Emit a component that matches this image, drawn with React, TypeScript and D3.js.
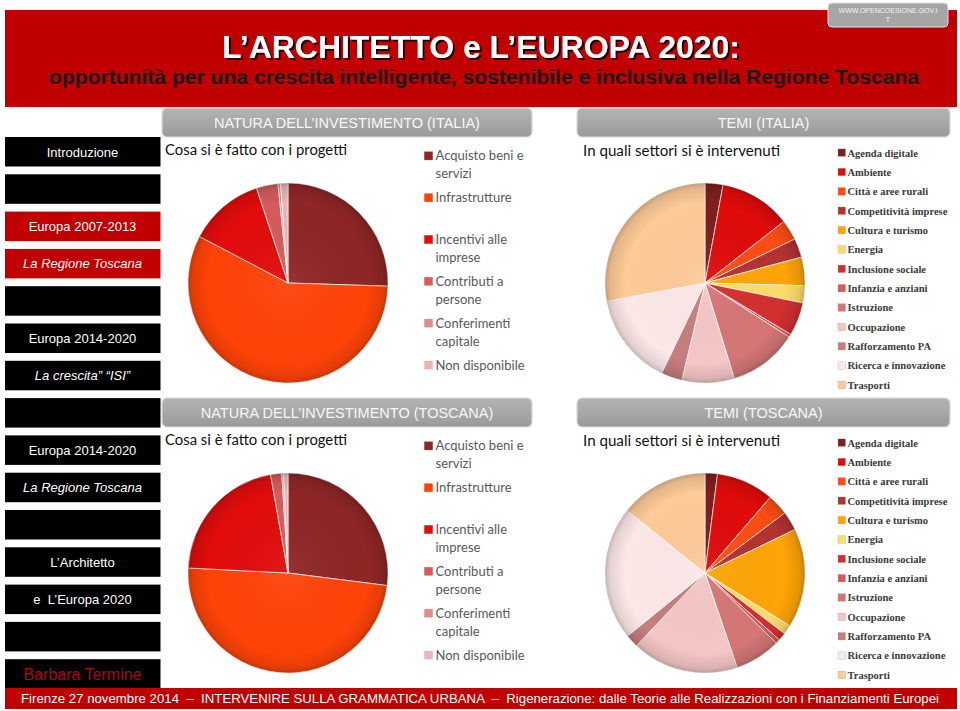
import React from 'react';
import * as d3 from 'd3';

// ---------- DATA ----------
const sidebarLabels = [
  'Introduzione', '', 'Europa 2007-2013', 'La Regione Toscana', '',
  'Europa 2014-2020', 'La crescita\u201d \u201cISI\u201d', '', 'Europa 2014-2020',
  'La Regione Toscana', '', 'L\u2019Architetto', 'e \u00a0L\u2019Europa 2020', '', 'Barbara Termine',
];
const sidebarItalic = [false, false, false, true, false, false, true, false, false, true, false, false, false, false, false];
const sidebarRed = [false, false, true, true, false, false, false, false, false, false, false, false, false, false, false];

const naturaCategories = [
  'Acquisto beni e servizi', 'Infrastrutture', 'Incentivi alle imprese',
  'Contributi a persone', 'Conferimenti capitale', 'Non disponibile',
];
const naturaLegendLines = [
  ['Acquisto beni e', 'servizi'], ['Infrastrutture'], ['Incentivi alle', 'imprese'],
  ['Contributi a', 'persone'], ['Conferimenti', 'capitale'], ['Non disponibile'],
];
const naturaColors = ['#8f2626', '#ff4308', '#e20c0c', '#d55c5c', '#df8c8c', '#e8b6b6'];
const naturaItalia = [25.5, 57.2, 12.2, 3.5, 0.4, 1.2];
const naturaToscana = [27.0, 48.8, 21.4, 1.8, 0.3, 0.7];

const temiCategories = [
  'Agenda digitale', 'Ambiente', 'Citt\u00e0 e aree rurali', 'Competitivit\u00e0 imprese',
  'Cultura e turismo', 'Energia', 'Inclusione sociale', 'Infanzia e anziani', 'Istruzione',
  'Occupazione', 'Rafforzamento PA', 'Ricerca e innovazione', 'Trasporti',
];
const temiColors = [
  '#7e1f1f', '#e00b0b', '#ff4d14', '#b43232', '#ffa505', '#ffdc6a', '#d23030',
  '#d85a5a', '#d47676', '#f5c6c6', '#c67e7e', '#fde8e8', '#fdca98',
];
const temiItalia = [2.9, 11.6, 3.3, 3.1, 4.6, 2.8, 5.4, 0.5, 11.2, 8.5, 3.4, 15.0, 28.0];
const temiToscana = [2.0, 9.3, 3.4, 3.1, 16.0, 1.5, 1.3, 0.7, 7.4, 17.2, 2.1, 21.6, 14.2];

const panelTitles = [
  ['NATURA DELL\u2019INVESTIMENTO (ITALIA)', 'TEMI (ITALIA)'],
  ['NATURA DELL\u2019INVESTIMENTO (TOSCANA)', 'TEMI (TOSCANA)'],
];

// ---------- COMPONENTS ----------
const RED = '#c00000';

function Pie({ cx, cy, r, values, colors, id }: any) {
  const pie = d3.pie<number>().sort(null).value((d) => d);
  const arc = d3.arc<d3.PieArcDatum<number>>().innerRadius(0).outerRadius(r);
  const arcs = pie(values);
  return (
    <g transform={`translate(${cx},${cy})`}>
      {arcs.map((a, i) => (
        <path key={i} d={arc(a) as string} fill={colors[i]} stroke="#fff" strokeOpacity={0.75} strokeWidth={0.9} />
      ))}
      <circle r={r} fill={`url(#shade-${id})`} pointerEvents="none" />
    </g>
  );
}

function GrayBar({ x, y, w, h, text }: any) {
  return (
    <g>
      <rect x={x} y={y} width={w} height={h} rx={5} fill="url(#barGrad)" stroke="#d9d9d9" strokeWidth={1.2} />
      <text x={x + w / 2} y={y + h / 2 + 5.5} textAnchor="middle" fontFamily="'Liberation Sans', Arial, sans-serif"
        fontSize={14.5} fill="#f7f7f7">{text}</text>
    </g>
  );
}

function NaturaPanel({ dy, values, title }: any) {
  return (
    <g transform={`translate(0,${dy})`}>
      <GrayBar x={162} y={108} w={370} h={29} text={title} />
      <text x={165} y={155} fontFamily="Lato, 'Open Sans', sans-serif" fontSize={14.5} fill="#111"
        textLength={182} lengthAdjust="spacingAndGlyphs">Cosa si è fatto con i progetti</text>
      <Pie cx={288} cy={283} r={100} values={values} colors={naturaColors} id={`n${dy}`} />
      {naturaCategories.map((c, i) => {
        const cyy = 155.7 + i * 41.9;
        return (
          <g key={c}>
            <rect x={424} y={cyy - 4.5} width={9} height={9} fill={naturaColors[i]} stroke="#fff" strokeWidth={0.5} />
            {naturaLegendLines[i].map((ln, j) => (
              <text key={j} x={435.5} y={cyy + 4.6 + j * 18} fontFamily="Lato, 'Open Sans', sans-serif"
                fontSize={13} fill="#595959">{ln}</text>
            ))}
          </g>
        );
      })}
    </g>
  );
}

function TemiPanel({ dy, values, title }: any) {
  return (
    <g transform={`translate(0,${dy})`}>
      <GrayBar x={577} y={108} w={373} h={29} text={title} />
      <text x={583} y={156} fontFamily="Lato, 'Open Sans', sans-serif" fontSize={15.5} fill="#111"
        textLength={197} lengthAdjust="spacingAndGlyphs">In quali settori si è intervenuti</text>
      <Pie cx={705} cy={283} r={100} values={values} colors={temiColors} id={`t${dy}`} />
      {temiCategories.map((c, i) => {
        const cyy = 152.7 + i * 19.36;
        return (
          <g key={c}>
            <rect x={838} y={cyy - 3.8} width={7.5} height={7.5} fill={temiColors[i]} stroke="#999" strokeWidth={0.3} />
            <text x={847.5} y={cyy + 3.8} fontFamily="'Liberation Serif', serif" fontWeight="bold"
              fontSize={10.5} fill="#3a3a3a">{c}</text>
          </g>
        );
      })}
    </g>
  );
}

export default function App() {
  const boxTop = (i: number) => 137 + i * 37.3;
  return (
    <svg width={960} height={711} viewBox="0 0 960 711"
      style={{ position: 'absolute', left: 0, top: 0, background: '#fff' }}>
      <defs>
        <linearGradient id="barGrad" x1="0" y1="0" x2="0" y2="1">
          <stop offset="0" stopColor="#b4b4b4" />
          <stop offset="1" stopColor="#9a9a9a" />
        </linearGradient>
        {['n0', 'n290', 't0', 't290'].map((k) => (
          <radialGradient key={k} id={`shade-${k}`} cx="0.5" cy="0.5" r="0.5">
            <stop offset="0" stopColor="#fff" stopOpacity={0.06} />
            <stop offset="0.8" stopColor="#000" stopOpacity={0.0} />
            <stop offset="0.95" stopColor="#000" stopOpacity={0.1} />
            <stop offset="1" stopColor="#000" stopOpacity={0.22} />
          </radialGradient>
        ))}
        <filter id="tshadow" x="-5%" y="-20%" width="110%" height="150%">
          <feDropShadow dx={2} dy={2} stdDeviation={0.6} floodColor="#000" floodOpacity={0.85} />
        </filter>
      </defs>
      <rect x={0} y={0} width={960} height={711} fill="#fff" />

      {/* Header */}
      <rect x={5} y={10} width={952} height={97} fill={RED} />
      <rect x={828} y={3} width={120} height={24} rx={4} fill="#a6a6a6" stroke="#e0e0e0" strokeWidth={1} />
      <text x={888} y={13} textAnchor="middle" fontFamily="'Liberation Sans', Arial, sans-serif" fontSize={7} fill="#f2f2f2">WWW.OPENCOESIONE.GOV.I</text>
      <text x={888} y={22} textAnchor="middle" fontFamily="'Liberation Sans', Arial, sans-serif" fontSize={7} fill="#f2f2f2">T</text>
      <text x={222} y={57.5} fontFamily="'Liberation Sans', Arial, sans-serif" fontWeight="bold" fontSize={31}
        fill="#fff" textLength={518} lengthAdjust="spacingAndGlyphs" filter="url(#tshadow)">L’ARCHITETTO e L’EUROPA 2020:</text>
      <text x={49} y={84} fontFamily="'Liberation Sans', Arial, sans-serif" fontWeight="bold" fontSize={20}
        fill="#1a1a1a" textLength={870} lengthAdjust="spacingAndGlyphs">opportunità per una crescita intelligente, sostenibile e inclusiva nella Regione Toscana</text>

      {/* Sidebar */}
      {sidebarLabels.map((lab, i) => {
        const y = boxTop(i);
        const last = i === sidebarLabels.length - 1;
        return (
          <g key={i}>
            <rect x={5} y={y} width={155.5} height={29.5} fill={sidebarRed[i] ? RED : '#000'} />
            {lab && (
              <text x={82.5} y={y + (last ? 20.5 : 19.5)} textAnchor="middle"
                fontFamily="'Liberation Sans', Arial, sans-serif" fontSize={last ? 16 : 13}
                fontStyle={sidebarItalic[i] ? 'italic' : 'normal'} fill={last ? '#a30d0d' : '#fff'}>{lab}</text>
            )}
          </g>
        );
      })}

      {/* Panels */}
      <NaturaPanel dy={0} values={naturaItalia} title={panelTitles[0][0]} />
      <TemiPanel dy={0} values={temiItalia} title={panelTitles[0][1]} />
      <NaturaPanel dy={290} values={naturaToscana} title={panelTitles[1][0]} />
      <TemiPanel dy={290} values={temiToscana} title={panelTitles[1][1]} />

      {/* Footer */}
      <rect x={5} y={688} width={952} height={21} fill={RED} />
      <text x={21} y={703} fontFamily="'Liberation Sans', Arial, sans-serif" fontSize={13} fill="#fff"
        textLength={918} lengthAdjust="spacingAndGlyphs">Firenze 27 novembre 2014 {'\u00a0'}– {'\u00a0'}INTERVENIRE SULLA GRAMMATICA URBANA {'\u00a0'}– {'\u00a0'}Rigenerazione: dalle Teorie alle Realizzazioni con i Finanziamenti Europei</text>
    </svg>
  );
}
